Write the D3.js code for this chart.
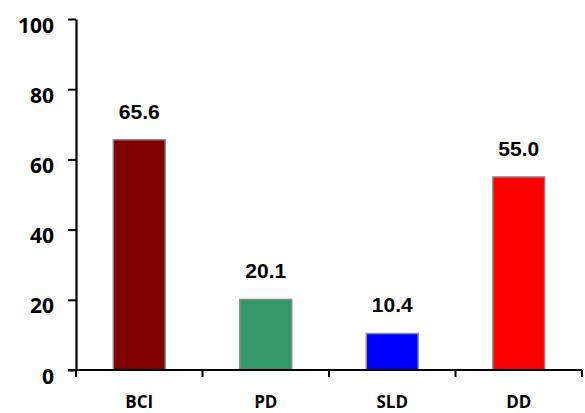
<!DOCTYPE html>
<html>
<head>
<meta charset="utf-8">
<script src="https://cdn.jsdelivr.net/npm/d3@7"></script>
<style>
  html, body { margin: 0; padding: 0; background: #fff; }
  svg { display: block; }
</style>
</head>
<body>
<svg id="chart" width="585" height="413"></svg>
<script>
// Group categories, their percentages and bar colours
const categories = ["BCI", "PD", "SLD", "DD"];
const values = [65.6, 20.1, 10.4, 55.0];
const colors = ["#800000", "#339966", "#0000FF", "#FF0000"];
const yTicks = [0, 20, 40, 60, 80, 100];

(function draw() {
  const svg = d3.select("#chart");
  const mLeft = 76, mRight = 582, mTop = 19, mBottom = 370;

  const x = d3.scaleBand().domain(categories).range([mLeft, mRight])
    .paddingInner(0.59).paddingOuter(0.295);
  const y = d3.scaleLinear().domain([0, 100]).range([mBottom, mTop]);

  // Bars
  svg.append("g").selectAll("rect")
    .data(categories)
    .join("rect")
    .attr("x", d => x(d))
    .attr("y", (d, i) => y(values[i]))
    .attr("width", x.bandwidth())
    .attr("height", (d, i) => y(0) - y(values[i]))
    .attr("fill", (d, i) => colors[i])
    .attr("stroke", "#8a8a8a")
    .attr("stroke-width", 1.5);

  // Value labels above bars
  svg.append("g").selectAll("text")
    .data(categories)
    .join("text")
    .attr("x", d => x(d) + x.bandwidth() / 2)
    .attr("y", (d, i) => y(values[i]) - 21)
    .attr("text-anchor", "middle")
    .attr("font-family", "'Liberation Sans', Arial, sans-serif")
    .attr("font-weight", "bold")
    .attr("font-size", 21)
    .attr("fill", "#000")
    .text((d, i) => values[i].toFixed(1));

  // Y axis
  const yAxis = svg.append("g")
    .attr("transform", `translate(${mLeft},0)`)
    .call(d3.axisLeft(y).tickValues(yTicks).tickSize(8).tickPadding(14).tickSizeOuter(0));
  yAxis.select(".domain").attr("stroke", "#000").attr("stroke-width", 2.2);
  yAxis.selectAll(".tick line").attr("stroke", "#000").attr("stroke-width", 2);
  yAxis.selectAll(".tick text")
    .attr("font-family", "'Open Sans', sans-serif")
    .attr("font-weight", "bold")
    .attr("font-size", 21)
    .attr("fill", "#000")
    .attr("dy", "0.62em");

  // X axis line with boundary ticks between categories
  const step = x.step();
  const x0 = x(categories[0]) - step * x.paddingOuter();
  const boundaries = d3.range(categories.length + 1).map(i => x0 + i * step);
  const xAxis = svg.append("g");
  xAxis.append("line")
    .attr("x1", mLeft - 8).attr("x2", mRight)
    .attr("y1", mBottom).attr("y2", mBottom)
    .attr("stroke", "#000").attr("stroke-width", 2.2);
  xAxis.selectAll("line.bt")
    .data(boundaries)
    .join("line")
    .attr("class", "bt")
    .attr("x1", d => d).attr("x2", d => d)
    .attr("y1", mBottom).attr("y2", mBottom + 7)
    .attr("stroke", "#000").attr("stroke-width", 2);

  // Category labels
  svg.append("g")
    .attr("transform", `translate(0,${mBottom})`)
    .call(d3.axisBottom(x).tickSize(0).tickPadding(0))
    .call(g => g.select(".domain").remove())
    .selectAll("text")
    .attr("y", 38)
    .attr("dy", 0)
    .attr("font-family", "'Open Sans', sans-serif")
    .attr("font-weight", "bold")
    .attr("font-size", 17)
    .attr("fill", "#000");
})();
</script>
</body>
</html>
